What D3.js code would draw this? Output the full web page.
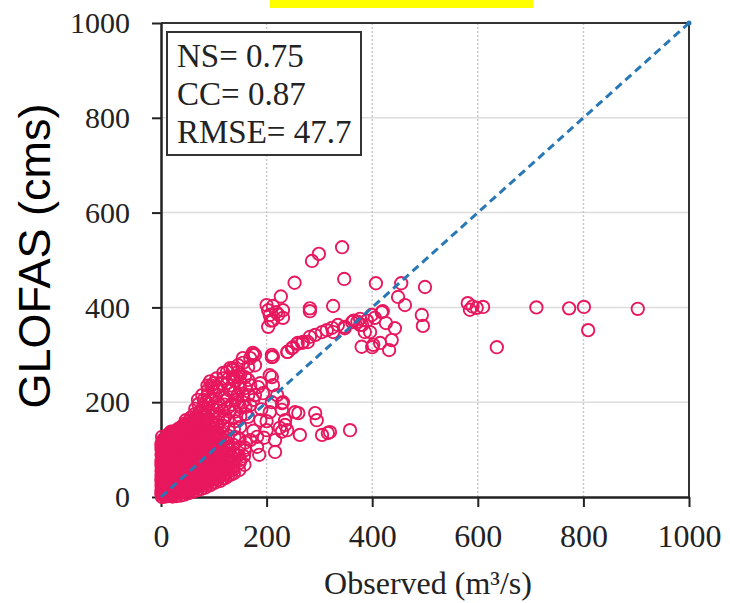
<!DOCTYPE html>
<html>
<head>
<meta charset="utf-8">
<script src="https://cdn.jsdelivr.net/npm/d3@7"></script>
<style>
  html, body { margin: 0; padding: 0; background: #fff; }
  svg { display: block; }
</style>
</head>
<body>
<div id="chart"></div>
<script>
const width = 730;
const height = 603;

const xTicks = [0, 200, 400, 600, 800, 1000];
const yTicks = [0, 200, 400, 600, 800, 1000];
const stats = ["NS= 0.75", "CC= 0.87", "RMSE= 47.7"];
const xLabel = "Observed (m\u00b3/s)";
const yLabel = "GLOFAS (cms)";

// [observed, glofas] pairs
// dense low-flow mass near the origin
const lowFlow = [
  [2,0],[1,9],[3,18],[2,28],[1,38],[3,49],[2,60],[1,71],[3,83],[2,95],[1,107],[3,118],[2,127],
  [7,4],[6,14],[8,25],[7,36],[6,46],[8,57],[7,68],[6,80],[8,91],[7,103],[6,114],[8,124],
  [13,2],[12,12],[14,22],[13,33],[12,44],[14,55],[13,66],[12,78],[14,90],[13,101],[12,112],[14,122],[13,131],
  [19,5],[18,16],[20,28],[19,39],[18,51],[20,62],[19,74],[18,86],[20,97],[19,109],[18,120],[20,131],[19,138],
  [26,6],[25,16],[27,26],[26,37],[25,49],[27,60],[26,71],[25,83],[27,95],[26,106],[25,118],[27,129],[26,139],
  [33,8],[32,19],[34,31],[33,42],[32,54],[34,65],[33,77],[32,88],[34,100],[33,111],[32,123],[34,134],[33,144],
  [40,10],[41,21],[39,33],[40,44],[41,56],[39,68],[40,79],[41,91],[39,102],[40,114],[41,126],[39,137],[40,149],
  [48,13],[47,24],[49,36],[48,47],[47,59],[49,71],[48,82],[47,94],[49,106],[48,117],[47,129],[49,141],[48,152],[47,162],
  [56,15],[57,27],[55,38],[56,50],[57,62],[55,73],[56,85],[57,97],[55,108],[56,120],[57,132],[55,144],[56,156],[57,168],
  [64,18],[63,30],[65,42],[64,54],[63,65],[65,77],[64,89],[63,101],[65,113],[64,125],[63,137],[65,149],[64,161],[63,174],[65,186],
  [72,22],[73,33],[71,45],[72,57],[73,69],[71,81],[72,93],[73,105],[71,117],[72,129],[73,141],[71,153],[72,166],[73,180],[71,196],
  [80,24],[79,36],[81,48],[80,60],[79,72],[81,84],[80,96],[79,108],[81,120],[80,133],[79,146],[81,158],[80,172],[79,188],[81,205],
  [89,28],[90,40],[88,52],[89,64],[90,76],[88,88],[89,100],[90,112],[88,125],[89,137],[90,150],[88,164],[89,178],[90,196],[88,214],
  [98,31],[97,43],[99,55],[98,67],[97,80],[99,92],[98,104],[97,117],[99,130],[98,143],[97,157],[99,171],[98,188],[97,206],[99,222],
  [107,36],[108,48],[106,61],[107,73],[108,86],[106,98],[107,111],[108,124],[106,138],[107,152],[108,167],[106,183],[107,200],
  [117,40],[116,53],[118,66],[117,79],[116,92],[118,106],[117,120],[116,134],[118,149],[117,165],[116,182],
  [127,45],[128,58],[126,72],[127,86],[128,100],[126,114],[127,129],[128,145],[126,162],
  [138,50],[137,64],[139,79],[138,94],[137,110],[139,126],[138,143],
  [148,57],[149,72],[147,88],[148,105],[149,122],
  [158,68],[157,86],[159,104]
];

// more points packed in between, where the mass is solid
const lowFlowFill = [
  [4,4],[4,13],[5,23],[4,33],[4,43],[5,54],[4,65],[4,76],[5,88],[4,100],[4,112],[5,122],
  [10,7],[10,17],[11,28],[10,39],[10,50],[11,61],[10,72],[10,84],[11,96],[10,107],[10,118],[11,127],
  [16,3],[16,10],[17,21],[16,33],[16,45],[17,57],[16,68],[16,80],[17,92],[16,104],[16,115],[17,126],[16,134],
  [22,1],[22,11],[23,22],[22,34],[22,45],[23,57],[22,68],[22,80],[23,91],[22,103],[22,114],[23,125],[22,135],
  [29,2],[29,12],[30,21],[29,32],[29,43],[30,55],[29,66],[29,77],[30,89],[29,101],[29,112],[30,124],[29,134],
  [36,3],[36,14],[37,25],[36,37],[36,48],[37,60],[36,71],[36,83],[37,94],[36,106],[36,117],[37,129],[36,140],
  [44,5],[44,16],[45,27],[44,39],[44,50],[45,62],[44,74],[44,85],[45,97],[44,108],[44,120],[45,132],[44,143],[45,155],
  [52,8],[52,19],[53,30],[52,42],[52,53],[53,65],[52,77],[52,88],[53,100],[52,112],[52,123],[53,135],[52,147],[53,160],
  [60,11],[60,21],[61,33],[60,44],[60,56],[61,68],[60,79],[60,91],[61,103],[60,115],[60,126],[61,138],[60,150],[61,163],
  [68,14],[68,25],[69,36],[68,48],[68,60],[69,72],[68,84],[68,96],[69,108],[68,120],[68,132],[69,144],[68,157],[69,170],
  [76,17],[76,29],[77,41],[76,53],[76,65],[77,77],[76,89],[76,101],[77,113],[76,125],[76,138],[77,151],[76,164],[77,178],
  [84,20],[84,32],[85,44],[84,56],[84,68],[85,80],[84,92],[84,104],[85,116],[84,129],[84,142],[85,155],[84,169],[85,185],
  [93,25],[93,36],[94,48],[93,60],[93,72],[94,84],[93,96],[93,108],[94,120],[93,132],[93,145],[94,158],
  [102,30],[102,40],[103,52],[102,64],[102,76],[103,88],[102,100],[102,112],[103,125],[102,138],
  [112,34],[112,45],[113,58],[112,71],[112,84],[113,97],[112,110],[112,124],
  [122,40],[122,52],[123,65],[122,78],[122,92],[123,106],
  [132,47],[132,60],[133,74],[132,88]
];

// the darkest part of the mass, close to the origin
const lowFlowCore = [
  [1,5],[1,15],[1,24],[1,34],[1,45],[1,55],[1,66],[1,78],[1,89],[1,101],[1,113],
  [8,1],[8,9],[8,20],[8,31],[8,41],[8,52],[8,63],[8,74],[8,86],[8,97],[8,109],[8,119],
  [15,6],[15,16],[15,27],[15,38],[15,49],[15,60],[15,72],[15,84],[15,96],[15,107],[15,118],[15,130],
  [21,7],[21,18],[21,30],[21,41],[21,52],[21,64],[21,75],[21,87],[21,99],[21,110],[21,122],
  [28,10],[28,21],[28,33],[28,44],[28,55],[28,67],[28,79],[28,91],[28,103],[28,115],[28,127],
  [35,12],[35,23],[35,35],[35,46],[35,58],[35,70],[35,82],[35,94],[35,106],[35,118],[35,130],
  [42,14],[42,26],[42,38],[42,50],[42,62],[42,74],[42,86],[42,98],[42,110],[42,122],[42,134],[42,146],
  [50,18],[50,30],[50,42],[50,54],[50,66],[50,78],[50,90],[50,102],[50,114],[50,126],[50,138],[50,150],
  [58,21],[58,33],[58,45],[58,57],[58,69],[58,81],[58,93],[58,105],[58,117],[58,129],[58,141],[58,153],
  [66,24],[66,36],[66,48],[66,60],[66,72],[66,84],[66,96],[66,108],[66,120],[66,132],[66,144],[66,156],
  [74,27],[74,39],[74,51],[74,63],[74,75],[74,87],[74,99],[74,111],[74,123],[74,135],[74,147],[74,160],
  [82,30],[82,42],[82,54],[82,66],[82,78],[82,90],[82,102],[82,114],[82,126],[82,139],
  [91,34],[91,46],[91,58],[91,70],[91,82],[91,94],[91,106],[91,118],[91,131],
  [100,38],[100,50],[100,62],[100,74],[100,86],[100,98],[100,110],[100,122]
];

// overlapping circles above the mass, 70-160 m3/s
const midFlowDense = [
  [95,235],[103,215],[110,225],[115,240],[120,195],[125,205],[110,195],[100,240],[118,250],[128,250],
  [135,235],[138,220],[145,200],[130,180],[135,195],[122,170],[140,180],[150,190],[145,215],[155,200],
  [160,175],[160,230],[150,258],[140,245],[118,262],[105,250],[88,235],[93,244],[78,215],[70,205],[85,200]
];

// scattered points around the mass, 100-370 m3/s
const midFlow = [
  [97,230],[106,232],[89,226],[125,240],[131,272],[136,253],[146,264],[155,283],[169,293],[178,300],
  [159,253],[169,236],[188,240],[210,253],[210,295],[136,268],[144,253],[165,274],[150,243],[184,232],
  [206,257],[212,236],[174,300],[210,300],[240,306],[146,278],[155,293],[125,264],[178,278],[165,247],
  [178,215],[193,219],[220,215],[155,215],[140,205],[169,194],[210,200],[231,200],[206,179],[229,198],
  [254,179],[235,162],[188,162],[200,141],[165,169],[182,127],[216,120],[150,148],[239,141],[225,146],
  [229,184],[260,177],[235,152],[229,138],[292,177],[295,162],[263,131],[305,131],[316,135],[320,137],
  [358,141],[216,95],[186,89],[182,106],[150,78],[136,57],[121,46],[102,40],[121,61],[159,99],
  [169,120],[140,90],[130,75],[160,115],[195,125],[175,140],[145,125],[128,105],[112,80],[150,170],
  [128,190],[118,150],[140,160],[160,190],[190,185],[200,160],[175,205],[120,210],[130,225],[150,230],
  [165,215],[212,296],[174,304],[136,272],
  [239,306],[250,316],[259,325],[269,327],[282,338],[292,342],[305,348],[314,352],[324,357],[335,363],
  [348,359],[248,314],[258,323],[267,325],[278,327],[362,369],[377,376],[326,348],[348,356],[377,363],
  [343,527],[299,513],[286,498],[347,460],[253,452],[227,423],[203,394],[212,403],[231,394],[206,384],
  [231,378],[203,359],[282,392],[326,403],[218,390],[208,372],[222,385],[200,405],[212,373],[282,398]
];

// high-flow points
const highFlow = [
  [407,451],[455,451],[500,443],[449,422],[462,405],[420,392],[399,384],[426,367],[443,356],[437,331],
  [415,325],[432,310],[400,316],[396,348],[381,363],[386,348],[405,378],[380,317],[402,321],[418,390],
  [494,384],[496,361],[365,372],[372,370],[390,372],
  [581,409],[585,395],[598,399],[610,401],[590,402],[636,316],[711,400],[773,398],[801,401],[903,397],[809,352]
];

const allPoints = lowFlow.concat(lowFlowFill, lowFlowCore, midFlowDense, midFlow, highFlow);

let svg;
const x = d3.scaleLinear().domain([0, 1000]).range([161, 689]);
const y = d3.scaleLinear().domain([0, 1000]).range([497, 23]);

const serif = "'Liberation Serif', 'Times New Roman', serif";
const sans = "'Liberation Sans', Arial, sans-serif";

function prepareVis() {
  svg = d3.select("#chart")
    .append("svg")
    .attr("width", width)
    .attr("height", height)
    .style("background", "#fff");
}

function drawVis() {
  // grid
  const grid = svg.append("g");
  grid.selectAll("line.h")
    .data(yTicks.slice(1, -1))
    .join("line")
    .attr("x1", x(0)).attr("x2", x(1000))
    .attr("y1", d => y(d)).attr("y2", d => y(d))
    .attr("stroke", "#dcdcdc")
    .attr("stroke-width", 1.5);
  grid.selectAll("line.v")
    .data(xTicks.slice(1, -1))
    .join("line")
    .attr("x1", d => x(d)).attr("x2", d => x(d))
    .attr("y1", y(0)).attr("y2", y(1000))
    .attr("stroke", "#c8c8c8")
    .attr("stroke-width", 1.5)
    .attr("stroke-dasharray", "2,2");

  // top and right frame
  svg.append("path")
    .attr("d", `M${x(0)},${y(1000)}H${x(1000)}V${y(0)}`)
    .attr("fill", "none")
    .attr("stroke", "#333")
    .attr("stroke-width", 2);

  // axes
  const yAxis = svg.append("g")
    .attr("transform", `translate(${x(0)},0)`)
    .call(d3.axisLeft(y).tickValues(yTicks).tickFormat(d3.format("d"))
      .tickSize(9).tickPadding(22).tickSizeOuter(0));
  const xAxis = svg.append("g")
    .attr("transform", `translate(0,${y(0)})`)
    .call(d3.axisBottom(x).tickValues(xTicks).tickFormat(d3.format("d"))
      .tickSize(10).tickPadding(17).tickSizeOuter(0));

  [yAxis, xAxis].forEach(a => {
    a.select(".domain").attr("stroke", "#222").attr("stroke-width", 2.5);
    a.selectAll(".tick line").attr("stroke", "#222").attr("stroke-width", 2);
    a.selectAll(".tick text")
      .attr("fill", "#222")
      .style("font-family", serif);
  });
  yAxis.selectAll(".tick text").style("font-size", "30px");
  xAxis.selectAll(".tick text").style("font-size", "32px");

  // points
  svg.append("g")
    .selectAll("circle")
    .data(allPoints)
    .join("circle")
    .attr("cx", d => x(d[0]))
    .attr("cy", d => y(d[1]))
    .attr("r", 6.2)
    .attr("fill", "none")
    .attr("stroke", "#e8185e")
    .attr("stroke-width", 1.9);

  // 1:1 line
  svg.append("line")
    .attr("x1", x(0)).attr("y1", y(0))
    .attr("x2", x(1000)).attr("y2", y(1000))
    .attr("stroke", "#2878b5")
    .attr("stroke-width", 3)
    .attr("stroke-dasharray", "8,5");
  svg.append("circle")
    .attr("cx", x(1000)).attr("cy", y(1000))
    .attr("r", 2.5)
    .attr("fill", "#2878b5");

  // stats box
  svg.append("rect")
    .attr("x", 167).attr("y", 32)
    .attr("width", 194).attr("height", 123)
    .attr("fill", "#fff")
    .attr("stroke", "#333")
    .attr("stroke-width", 2);
  svg.append("g")
    .selectAll("text")
    .data(stats)
    .join("text")
    .attr("x", 177)
    .attr("y", (d, i) => 67 + i * 38)
    .attr("fill", "#222")
    .style("font-family", serif)
    .style("font-size", "33px")
    .text(d => d);

  // axis titles
  svg.append("text")
    .attr("x", 428).attr("y", 594)
    .attr("text-anchor", "middle")
    .attr("fill", "#222")
    .style("font-family", serif)
    .style("font-size", "32px")
    .text(xLabel);
  svg.append("text")
    .attr("transform", "translate(50,256) rotate(-90)")
    .attr("text-anchor", "middle")
    .attr("fill", "#000")
    .style("font-family", sans)
    .style("font-size", "45px")
    .text(yLabel);

  // yellow highlight bar at the top
  svg.append("rect")
    .attr("x", 270).attr("y", 0)
    .attr("width", 263).attr("height", 8)
    .attr("fill", "#ffff00");
}

function runApp() {
  prepareVis();
  drawVis();
}

runApp();
</script>
</body>
</html>
